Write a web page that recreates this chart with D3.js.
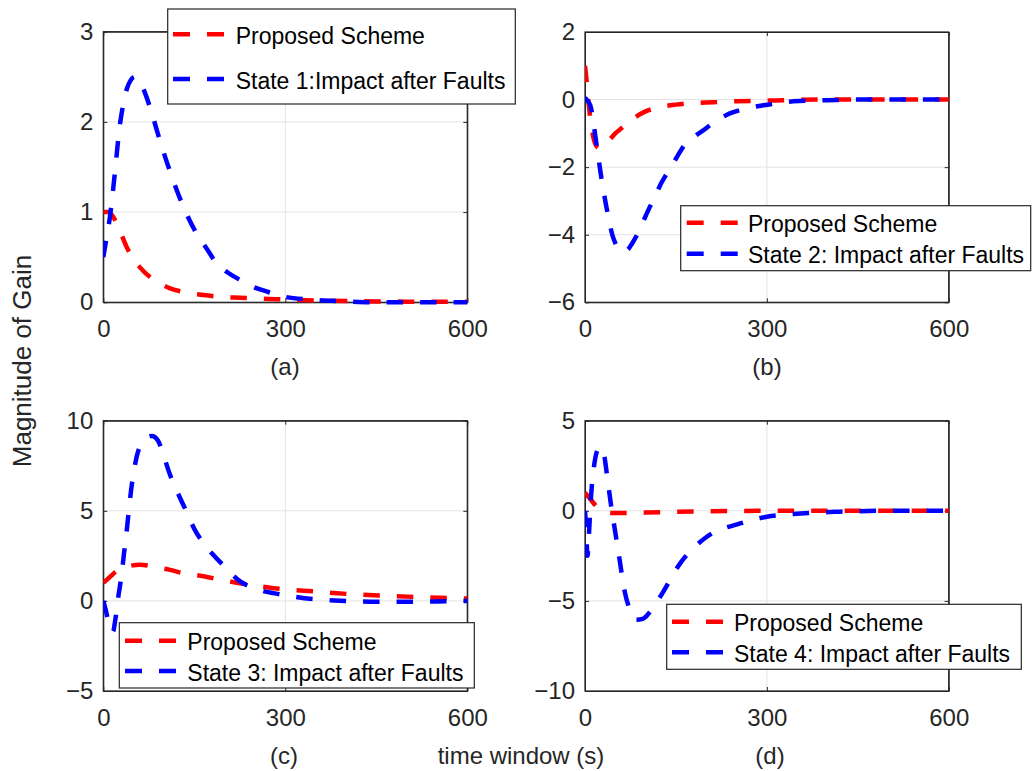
<!DOCTYPE html>
<html><head><meta charset="utf-8">
<script src="https://cdn.jsdelivr.net/npm/d3@7"></script>
<style>
html,body{margin:0;padding:0;background:#fff;}
svg{display:block;font-family:"Liberation Sans",Arial,Helvetica,sans-serif;}
</style></head>
<body>
<svg id="chart" width="1032" height="771"></svg>
<script>
// ---------------- DATA ----------------
const xTicks = [0, 300, 600];
const yTicksA = [0, 1, 2, 3];
const yTicksB = [-6, -4, -2, 0, 2];
const yTicksC = [-5, 0, 5, 10];
const yTicksD = [-10, -5, 0, 5];

const legendRed = "Proposed Scheme";
const legendBlueA = "State 1:Impact after Faults";
const legendBlueB = "State 2: Impact after Faults";
const legendBlueC = "State 3: Impact after Faults";
const legendBlueD = "State 4: Impact after Faults";
const panelLabels = ["(a)", "(b)", "(c)", "(d)"];

// Panel (a)
const tRedA = [0, 8, 16, 27, 38, 50, 60, 77, 93, 110, 135, 165, 195, 225, 285, 350, 450, 600];
const vRedA = [1.0, 1.0, 0.95, 0.8, 0.62, 0.48, 0.39, 0.28, 0.21, 0.155, 0.11, 0.08, 0.06, 0.05, 0.035, 0.02, 0.01, 0.005];
const tBlueA = [0, 5, 11, 19, 27, 33, 39, 45, 52, 60, 71, 82, 93, 110, 132, 154, 170, 187, 205, 225, 247, 269, 300, 340, 400, 450, 600];
const vBlueA = [0.5, 0.7, 0.95, 1.43, 1.95, 2.2, 2.37, 2.46, 2.5, 2.45, 2.28, 2.05, 1.8, 1.45, 1.06, 0.76, 0.6, 0.43, 0.33, 0.25, 0.17, 0.12, 0.06, 0.03, 0.01, 0.0, 0.0];

// Panel (b)
const tRedB = [0, 3, 6, 9, 13, 18, 24, 30, 40, 50, 60, 70, 85, 100, 120, 150, 180, 212, 250, 300, 350, 400, 600];
const vRedB = [1.0, 0.5, -0.1, -0.6, -1.05, -1.35, -1.45, -1.38, -1.2, -1.0, -0.85, -0.7, -0.5, -0.35, -0.24, -0.15, -0.1, -0.08, -0.05, -0.03, -0.01, 0.0, 0.0];
const tBlueB = [0, 5, 10, 14, 18, 22, 26, 30, 35, 40, 45, 50, 56, 62, 70, 78, 86, 95, 105, 115, 125, 135, 150, 162, 180, 195, 215, 239, 265, 294, 320, 344, 400, 450, 600];
const vBlueB = [0.05, -0.05, -0.25, -0.7, -1.2, -1.7, -2.2, -2.65, -3.15, -3.6, -4.0, -4.25, -4.45, -4.5, -4.45, -4.25, -4.0, -3.65, -3.25, -2.9, -2.5, -2.19, -1.75, -1.4, -1.1, -0.91, -0.65, -0.41, -0.27, -0.17, -0.1, -0.05, -0.02, 0.0, 0.0];

// Panel (c)
const tRedC = [0, 10, 20, 30, 45, 60, 75, 90, 110, 130, 160, 190, 225, 260, 290, 350, 410, 470, 530, 580, 600];
const vRedC = [1.0, 1.3, 1.6, 1.8, 1.95, 2.0, 1.95, 1.85, 1.72, 1.55, 1.4, 1.2, 0.98, 0.8, 0.67, 0.52, 0.37, 0.28, 0.2, 0.15, 0.13];
const tBlueC = [0, 4, 8, 12, 16, 20, 25, 30, 34, 38, 42, 46, 50, 55, 62, 70, 80, 90, 100, 110, 120, 135, 150, 165, 180, 200, 225, 258, 291, 346, 400, 450, 500, 550, 600];
const vBlueC = [0, -0.5, -1.1, -1.6, -1.7, -1.0, 0.3, 1.4, 2.6, 3.7, 5.0, 6.2, 7.1, 8.0, 8.7, 9.0, 9.15, 8.9, 8.0, 7.0, 6.2, 5.1, 4.0, 3.2, 2.6, 1.9, 1.1, 0.6, 0.37, 0.1, 0.0, -0.05, -0.05, -0.03, 0.0];

// Panel (d)
const tRedD = [0, 10, 20, 30, 45, 60, 100, 150, 200, 300, 600];
const vRedD = [1.0, 0.6, 0.2, -0.05, -0.12, -0.12, -0.1, -0.06, -0.03, 0.0, 0.0];
const tBlueD = [0, 2, 4, 7, 10, 15, 21, 26, 31, 37, 43, 50, 57, 65, 73, 85, 95, 105, 124, 157, 201, 256, 300, 355, 420, 500, 600];
const vBlueD = [0, -1.0, -2.5, -1.0, 0.8, 2.5, 3.4, 3.55, 3.2, 1.8, 0.3, -1.2, -2.7, -4.4, -5.4, -6.05, -6.0, -5.7, -4.77, -2.92, -1.44, -0.7, -0.33, -0.15, -0.05, 0.0, 0.0];

// ---------------- LAYOUT ----------------
const svg = d3.select("#chart");
const ink = "#262626";
const RED = "#ff0000", BLUE = "#0000ff";

const panels = [
  {x0:103.3, x1:467.3, y0:31.7, y1:302.3, yDom:[0,3], yTicks:yTicksA,
   red:[tRedA,vRedA], blue:[tBlueA,vBlueA], blueName:legendBlueA, label:panelLabels[0],
   labX:285, labY:375,
   leg:{x:167.7, y:9, w:347.6, h:95, rows:[34.3, 79], lx:173, tx:235.7}},
  {x0:585, x1:948.7, y0:32, y1:302.3, yDom:[-6,2], yTicks:yTicksB,
   red:[tRedB,vRedB], blue:[tBlueB,vBlueB], blueName:legendBlueB, label:panelLabels[1],
   labX:767, labY:375,
   leg:{x:680.7, y:205.7, w:350, h:65, rows:[222.7, 253.7], lx:686.7, tx:748}},
  {x0:103.3, x1:467.3, y0:420.7, y1:691, yDom:[-5,10], yTicks:yTicksC,
   red:[tRedC,vRedC], blue:[tBlueC,vBlueC], blueName:legendBlueC, label:panelLabels[2],
   labX:284, labY:764,
   leg:{x:119.3, y:622.7, w:355, h:65.3, rows:[640.7, 671], lx:125, tx:187.3}},
  {x0:585, x1:948.7, y0:420.7, y1:691, yDom:[-10,5], yTicks:yTicksD,
   red:[tRedD,vRedD], blue:[tBlueD,vBlueD], blueName:legendBlueD, label:panelLabels[3],
   labX:770, labY:764,
   leg:{x:666.7, y:604.3, w:354.6, h:65, rows:[621.7, 652.3], lx:672, tx:734}}
];

const DASH = "16.5,17";
const LW = 4.5;

panels.forEach((p, i) => {
  const x = d3.scaleLinear().domain([0, 600]).range([p.x0, p.x1]);
  const y = d3.scaleLinear().domain(p.yDom).range([p.y1, p.y0]);
  const g = svg.append("g");

  // grid
  g.selectAll(".gx").data(xTicks).enter().append("line")
    .attr("x1", d => x(d)).attr("x2", d => x(d)).attr("y1", p.y0).attr("y2", p.y1)
    .attr("stroke", "#e3e3e3").attr("stroke-width", 1);
  g.selectAll(".gy").data(p.yTicks).enter().append("line")
    .attr("x1", p.x0).attr("x2", p.x1).attr("y1", d => y(d)).attr("y2", d => y(d))
    .attr("stroke", "#e3e3e3").attr("stroke-width", 1);

  // axes
  const fs = "24px";
  g.append("g").attr("transform", `translate(0,${p.y1})`)
    .call(d3.axisBottom(x).tickValues(xTicks).tickSizeInner(-4).tickSizeOuter(0).tickPadding(18).tickFormat(d3.format("d")));
  g.append("g").attr("transform", `translate(${p.x0},0)`)
    .call(d3.axisLeft(y).tickValues(p.yTicks).tickSizeInner(-4).tickSizeOuter(0).tickPadding(10).tickFormat(d3.format("d")));
  g.append("g").attr("transform", `translate(0,${p.y0})`)
    .call(d3.axisTop(x).tickValues(xTicks).tickSizeInner(-4).tickSizeOuter(0).tickFormat(""));
  g.append("g").attr("transform", `translate(${p.x1},0)`)
    .call(d3.axisRight(y).tickValues(p.yTicks).tickSizeInner(-4).tickSizeOuter(0).tickFormat(""));
  g.selectAll(".domain").attr("stroke", ink);
  g.selectAll(".tick line").attr("stroke", ink);
  g.selectAll(".tick text").attr("fill", ink).style("font-size", fs)
    .style("font-family", '"Liberation Sans",Arial,sans-serif');

  // box
  g.append("rect").attr("x", p.x0).attr("y", p.y0).attr("width", p.x1 - p.x0).attr("height", p.y1 - p.y0)
    .attr("fill", "none").attr("stroke", ink).attr("stroke-width", 1.2);

  // clip
  const cid = "clip" + i;
  svg.append("defs").append("clipPath").attr("id", cid).append("rect")
    .attr("x", p.x0).attr("y", p.y0 - 3).attr("width", p.x1 - p.x0 + 3).attr("height", p.y1 - p.y0 + 6);

  const line = d3.line().x(d => x(d[0])).y(d => y(d[1])).curve(d3.curveMonotoneX);
  const toPts = s => s[0].map((t, k) => [t, s[1][k]]);
  const cg = g.append("g").attr("clip-path", `url(#${cid})`);
  cg.append("path").datum(toPts(p.red)).attr("d", line)
    .attr("fill", "none").attr("stroke", RED).attr("stroke-width", LW).attr("stroke-dasharray", DASH);
  cg.append("path").datum(toPts(p.blue)).attr("d", line)
    .attr("fill", "none").attr("stroke", BLUE).attr("stroke-width", LW).attr("stroke-dasharray", DASH);

  // legend
  const L = p.leg;
  const lg = svg.append("g");
  lg.append("rect").attr("x", L.x).attr("y", L.y).attr("width", L.w).attr("height", L.h)
    .attr("fill", "#fff").attr("stroke", ink).attr("stroke-width", 1.2);
  const items = [[legendRed, RED], [p.blueName, BLUE]];
  items.forEach((it, k) => {
    lg.append("line").attr("x1", L.lx).attr("x2", L.lx + 51).attr("y1", L.rows[k]).attr("y2", L.rows[k])
      .attr("stroke", it[1]).attr("stroke-width", LW).attr("stroke-dasharray", "17,17");
    lg.append("text").attr("x", L.tx).attr("y", L.rows[k] + 9.5).text(it[0])
      .attr("fill", "#000").style("font-size", "23px");
  });

  // panel label
  svg.append("text").attr("x", p.labX).attr("y", p.labY).attr("text-anchor", "middle")
    .attr("fill", ink).style("font-size", "24px").text(p.label);
});

// axis titles
svg.append("text").attr("transform", "translate(31,361) rotate(-90)").attr("text-anchor", "middle")
  .attr("fill", ink).style("font-size", "26px").text("Magnitude of Gain");
svg.append("text").attr("x", 521).attr("y", 764).attr("text-anchor", "middle")
  .attr("fill", ink).style("font-size", "24px").text("time window (s)");
</script>
</body></html>
